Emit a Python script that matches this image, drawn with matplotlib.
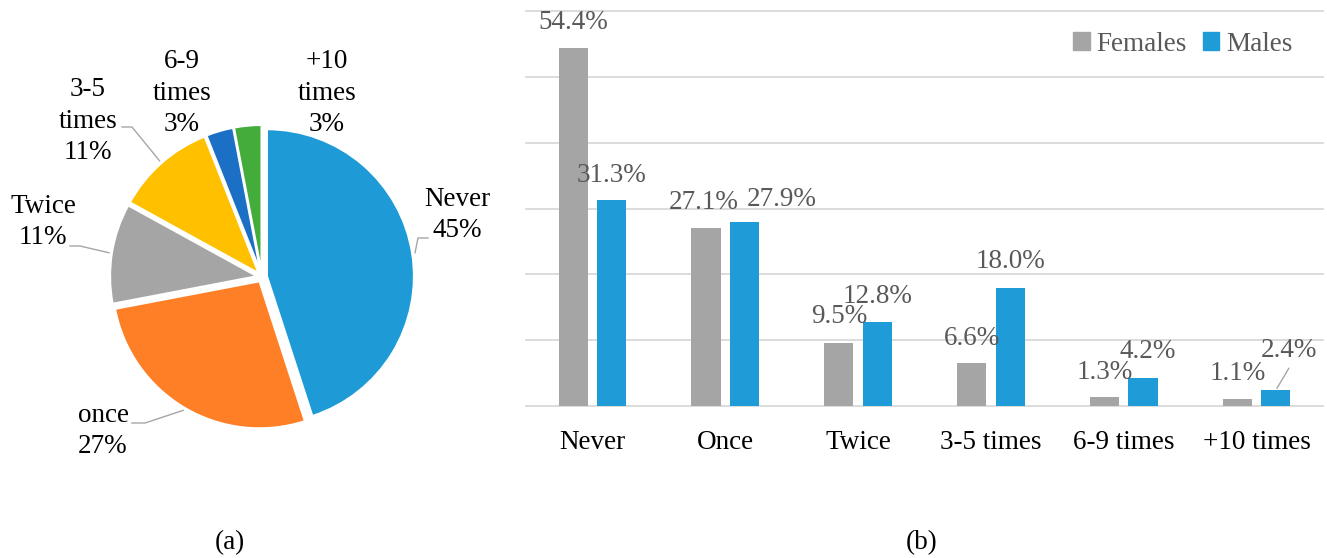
import matplotlib
matplotlib.use('Agg')
import matplotlib.pyplot as plt
import numpy as np
from matplotlib.patches import Patch

plt.rcParams['font.family'] = ['Liberation Serif', 'DejaVu Serif']

# ---------------- data ----------------
pie_categories = ['Never', 'once', 'Twice', '3-5\ntimes', '6-9\ntimes', '+10\ntimes']
pie_values = [45, 27, 11, 11, 3, 3]
pie_colors = ['#1E9BD7', '#FF7F27', '#A5A5A5', '#FFC000', '#1B6FC4', '#43AC3B']

bar_categories = ['Never', 'Once', 'Twice', '3-5 times', '6-9 times', '+10 times']
females = [54.4, 27.1, 9.5, 6.6, 1.3, 1.1]
males = [31.3, 27.9, 12.8, 18.0, 4.2, 2.4]
series_names = ['Females', 'Males']
y_ticks = [0, 10, 20, 30, 40, 50, 60]

# ---------------- layout / style ----------------
W, H = 1327, 558
PT = 0.72  # points per pixel at dpi 100
FS = 19.5
GRAY_TXT = '#595959'
LINE_GRAY = '#A6A6A6'

fig = plt.figure(figsize=(W / 100, H / 100), dpi=100)

# ---- pie ----
cx, cy, R = 262, 277, 147
half = 220
axp = fig.add_axes([(cx - half) / W, (H - cy - half) / H, 2 * half / W, 2 * half / H])
wedges, _ = axp.pie(pie_values, colors=pie_colors, startangle=90, counterclock=False,
                    explode=[0.034] * len(pie_values), radius=1,
                    wedgeprops=dict(edgecolor='white', linewidth=1.5))
lim = half / R
axp.set_xlim(-lim, lim)
axp.set_ylim(-lim, lim)
axp.set_aspect('equal')
axp.axis('off')


def px2d(px, py):
    return ((px - cx) / R, (cy - py) / R)


label_pos_px = [(457, 215), (103, 431), (43, 222), (88, 121), (182, 93), (327, 93)]
for cat, val, (lx, ly) in zip(pie_categories, pie_values, label_pos_px):
    tx, ty = px2d(lx, ly)
    axp.text(tx, ty, f"{cat}\n{val}%", ha='center', va='center', fontsize=FS,
             color='black', linespacing=1.36)

# leader lines: (index, end near text px, elbow px)
leaders = [(0, (428, 238), (418, 238)),
           (1, (132, 423), (145, 423)),
           (2, (70, 246), (80, 246)),
           (3, (122, 127), (132, 127))]
for idx, endp, elb in leaders:
    w = wedges[idx]
    mid = np.deg2rad((w.theta1 + w.theta2) / 2)
    wcx, wcy = w.center
    rx, ry = wcx + 1.02 * np.cos(mid), wcy + 1.02 * np.sin(mid)
    ex, ey = px2d(*endp)
    bx, by = px2d(*elb)
    axp.plot([ex, bx, rx], [ey, by, ry], color=LINE_GRAY, lw=1.0, clip_on=False)

# ---- bars ----
axb = fig.add_axes([526 / W, 1 - 406 / H, (1323 - 526) / W, (406 - 11) / H])
x = np.arange(len(bar_categories))
bw, off = 0.22, 0.145
axb.bar(x - off, females, bw, color='#A5A5A5', label=series_names[0], zorder=3)
axb.bar(x + off, males, bw, color='#1F9BD7', label=series_names[1], zorder=3)
axb.set_xlim(-0.5, len(bar_categories) - 0.5)
axb.set_ylim(0, 60)
axb.set_yticks(y_ticks)
axb.yaxis.grid(True, color='#D9D9D9', lw=1.3)
for gl in axb.get_ygridlines():
    gl.set_clip_on(False)
axb.set_axisbelow(True)
axb.tick_params(axis='y', left=False, labelleft=False)
axb.set_xticks(x)
axb.set_xticklabels(bar_categories, fontsize=FS, color='black')
axb.tick_params(axis='x', length=0, pad=17)
for s in axb.spines.values():
    s.set_visible(False)

f_dx = [0, -2, 0, 0, 0, 0]
f_gap = [19, 19, 20, 18, 18, 19]
m_dx = [0, 37, 0, 0, 5, 13]
m_gap = [18, 16, 19, 19, 20, 33]
for i, v in enumerate(females):
    axb.annotate(f"{v:.1f}%", xy=(x[i] - off, v), xytext=(f_dx[i] * PT, f_gap[i] * PT),
                 textcoords='offset points', ha='center', va='baseline',
                 color=GRAY_TXT, fontsize=FS, annotation_clip=False)
for i, v in enumerate(males):
    axb.annotate(f"{v:.1f}%", xy=(x[i] + off, v), xytext=(m_dx[i] * PT, m_gap[i] * PT),
                 textcoords='offset points', ha='center', va='baseline',
                 color=GRAY_TXT, fontsize=FS, annotation_clip=False)
# leader for the last male label
axb.annotate('', xy=(x[-1] + off, males[-1]), xytext=(13 * PT, 22 * PT),
             textcoords='offset points',
             arrowprops=dict(arrowstyle='-', color=LINE_GRAY, lw=1.0, shrinkA=0, shrinkB=1.5))

handles = [Patch(color='#A5A5A5'), Patch(color='#1F9BD7')]
fig.legend(handles, series_names, loc='center', bbox_to_anchor=(1183 / W, 1 - 44 / H),
           ncol=2, frameon=False, fontsize=FS, handlelength=0.6, handleheight=0.6,
           handletextpad=0.25, columnspacing=0.6, labelcolor=GRAY_TXT)

fig.text(230 / W, 1 - 543 / H, '(a)', ha='center', va='center', fontsize=FS)
fig.text(922 / W, 1 - 543 / H, '(b)', ha='center', va='center', fontsize=FS)

fig.savefig('out.png', dpi=100)
